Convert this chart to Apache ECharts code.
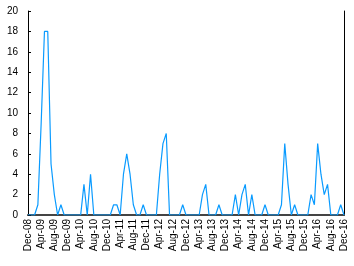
<!DOCTYPE html>
<html>
<head>
<meta charset="utf-8">
<script src="https://cdn.jsdelivr.net/npm/echarts@6/dist/echarts.min.js"></script>
<style>html,body{margin:0;padding:0;background:#fff}#c{width:354px;height:266px}</style>
</head>
<body>
<div id="c"></div>
<script>
// Monthly categories Dec-08 .. Dec-16
const monthNames = ['Jan','Feb','Mar','Apr','May','Jun','Jul','Aug','Sep','Oct','Nov','Dec'];
const categories = ['Dec-08'];
for (let y = 9; y <= 16; y++) {
  for (let m = 0; m < 12; m++) {
    categories.push(monthNames[m] + '-' + (y < 10 ? '0' + y : '' + y));
  }
}
// Series values
const values2009 = [0, 0, 1, 9, 18, 18, 5, 2, 0, 1, 0, 0];          // Jan-09..Dec-09
const values2010 = [0, 0, 0, 0, 3, 0, 4, 0, 0, 0, 0, 0];            // Jan-10..Dec-10
const values2011 = [0, 1, 1, 0, 4, 6, 4, 1, 0, 0, 1, 0];            // Jan-11..Dec-11
const values2012 = [0, 0, 0, 4, 7, 8, 0, 0, 0, 0, 1, 0];            // Jan-12..Dec-12
const values2013 = [0, 0, 0, 0, 2, 3, 0, 0, 0, 1, 0, 0];            // Jan-13..Dec-13
const values2014 = [0, 0, 2, 0, 2, 3, 0, 2, 0, 0, 0, 1];            // Jan-14..Dec-14
const values2015 = [0, 0, 0, 0, 1, 7, 3, 0, 1, 0, 0, 0];            // Jan-15..Dec-15
const values2016 = [0, 2, 1, 7, 4, 2, 3, 0, 0, 0, 1, 0];            // Jan-16..Dec-16
const valueDec08 = [0];
const seriesValues = valueDec08.concat(values2009, values2010, values2011, values2012,
  values2013, values2014, values2015, values2016);
const yTicks = [0, 2, 4, 6, 8, 10, 12, 14, 16, 18, 20];

const chart = echarts.init(document.getElementById('c'), null, {renderer: 'canvas'});
chart.setOption({
  animation: false,
  backgroundColor: '#fff',
  grid: {left: 28, right: 10, top: 11, bottom: 51, containLabel: false},
  xAxis: [{
    type: 'category',
    data: categories,
    boundaryGap: false,
    axisLine: {lineStyle: {color: '#000', width: 1}},
    axisTick: {show: false},
    axisLabel: {
      interval: 3, rotate: 90, color: '#000', fontSize: 10,
      fontFamily: 'Liberation Sans, Arial, sans-serif', margin: 4
    },
    splitLine: {show: false}
  }, {
    type: 'category',
    data: categories,
    position: 'top',
    boundaryGap: false,
    axisLine: {lineStyle: {color: '#444', width: 2}},
    axisTick: {show: false},
    axisLabel: {show: false},
    splitLine: {show: false}
  }],
  yAxis: [{
    type: 'value',
    min: yTicks[0], max: yTicks[yTicks.length - 1], interval: 2,
    axisLine: {show: true, lineStyle: {color: '#000', width: 1}},
    axisTick: {show: true, inside: true, length: 3, lineStyle: {color: '#000'}},
    axisLabel: {color: '#000', fontSize: 10, fontFamily: 'Liberation Sans, Arial, sans-serif', margin: 10},
    splitLine: {show: false}
  }, {
    type: 'value',
    position: 'right',
    min: yTicks[0], max: yTicks[yTicks.length - 1], interval: 2,
    axisLine: {show: true, lineStyle: {color: '#000', width: 1}},
    axisTick: {show: false},
    axisLabel: {show: false},
    splitLine: {show: false}
  }],
  series: [{
    type: 'line',
    data: seriesValues,
    symbol: 'none',
    lineStyle: {color: '#0a9bff', width: 1.2},
    xAxisIndex: 0, yAxisIndex: 0
  }]
});
</script>
</body>
</html>
